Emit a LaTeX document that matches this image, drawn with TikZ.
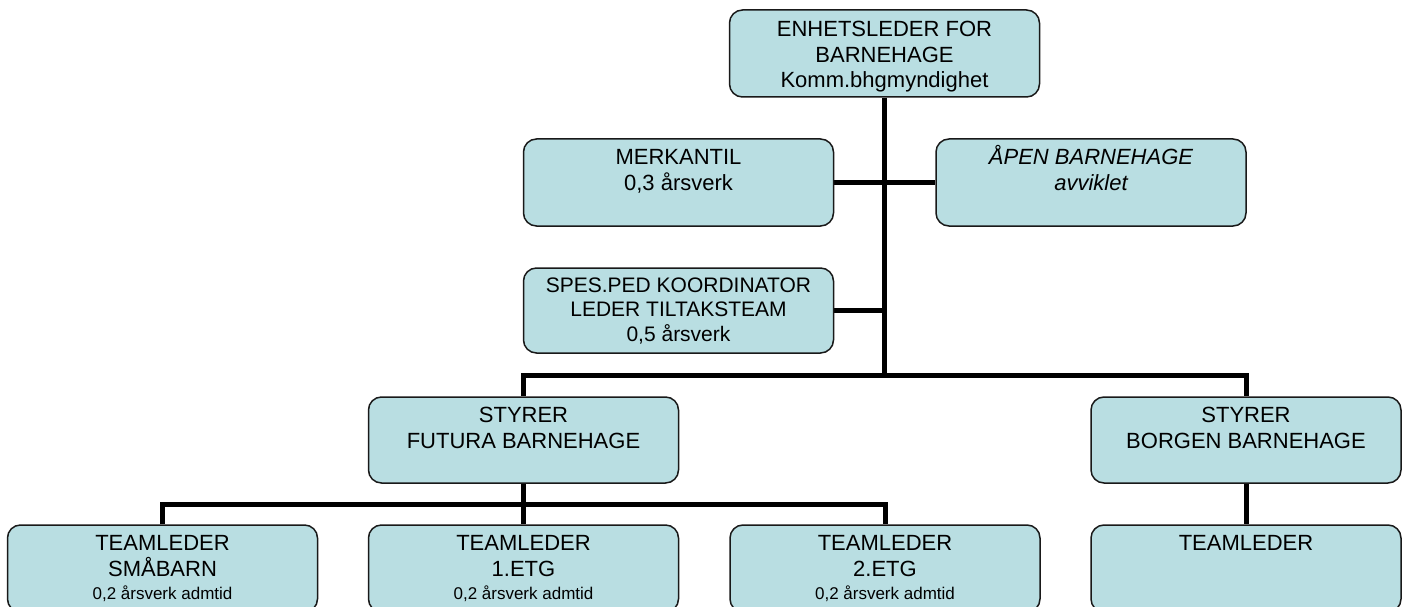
\documentclass[tikz,border=0pt]{standalone}
\usepackage{fontspec}
\setmainfont{Liberation Sans}
\usetikzlibrary{backgrounds,calc}
\definecolor{boxfill}{RGB}{185,222,226}
\definecolor{boxline}{RGB}{25,25,25}
\newcommand\firstln{\rule{0pt}{20pt}}
\newcommand\smalltxt[1]{{\fontsize{17}{20}\selectfont #1}}
\begin{document}
\begin{tikzpicture}[x=1pt,y=-1pt,
  orgbox/.style={draw=boxline, line width=1.5pt, fill=boxfill, rounded corners=13pt,
    inner sep=0pt, minimum width=310pt, minimum height=86pt},
  conn/.style={line width=5pt, draw=black},
  lbl/.style={anchor=north, align=center, inner sep=0pt, text=black,
    font=\fontsize{22}{26}\selectfont},
]
\useasboundingbox (0,0) rectangle (1406,607);
\clip (0,0) rectangle (1406,607);

% boxes
\node[orgbox, minimum height=87pt] (top)    at (884.5,53.5) {};
\node[orgbox, minimum height=87pt] (merk)   at (678.5,182.5) {};
\node[orgbox, minimum height=87pt] (apen)   at (1091,182.5) {};
\node[orgbox, minimum height=85pt] (spes)   at (678.5,310.5) {};
\node[orgbox] (futura) at (523.5,440) {};
\node[orgbox] (borgen) at (1246,440) {};
\node[orgbox, minimum height=87pt] (smaa)   at (162.5,568.5) {};
\node[orgbox, minimum height=87pt] (etg1)   at (523.5,568.5) {};
\node[orgbox, minimum height=87pt] (etg2)   at (885,568.5) {};
\node[orgbox, minimum height=87pt] (team)   at (1246,568.5) {};

% connectors
\coordinate (bus)  at (0,375);
\coordinate (bustwo) at (0,504);
\begin{scope}[on background layer]
\fill[white] (0,0) rectangle (1406,607);
\draw[conn] (top.south) -- (top.south |- bus);
\draw[conn] (merk.east) -- (apen.west);
\draw[conn] (spes.east) -- (spes.east -| top.south);
\draw[conn] (futura.north) -- (futura.north |- bus) -- (borgen.north |- bus) -- (borgen.north);
\draw[conn] (futura.south) -- (futura.south |- bustwo);
\draw[conn] (smaa.north) -- (smaa.north |- bustwo) -- (etg2.north |- bustwo) -- (etg2.north);
\draw[conn] (etg1.north) -- (etg1.north |- bustwo);
\draw[conn] (borgen.south) -- (team.north);
\end{scope}

% texts
\node[lbl, font=\fontsize{22}{25.5}\selectfont] (ttop) at ($(top.north)+(0,7.5)$)
  {\firstln ENHETSLEDER FOR\\BARNEHAGE\\Komm.bhgmyndighet};
\node[lbl] (tmerk) at ($(merk.north)+(0,6)$) {\firstln MERKANTIL\\0,3 årsverk};
\node[lbl, font=\fontsize{22}{26}\selectfont\itshape] (tapen) at ($(apen.north)+(0,6)$)
  {\firstln ÅPEN BARNEHAGE\\avviklet};
\node[lbl, font=\fontsize{21}{24.5}\selectfont] (tspes) at ($(spes.north)+(0,5)$)
  {\firstln SPES.PED KOORDINATOR\\LEDER TILTAKSTEAM\\0,5 årsverk};
\node[lbl] (tfutura) at ($(futura.north)+(0,6)$) {\firstln STYRER\\FUTURA BARNEHAGE};
\node[lbl] (tborgen) at ($(borgen.north)+(0,6)$) {\firstln STYRER\\BORGEN BARNEHAGE};
\node[lbl] (tsmaa) at ($(smaa.north)+(0,6)$)
  {\firstln TEAMLEDER\\SMÅBARN\\[-3pt]\smalltxt{0,2 årsverk admtid}};
\node[lbl] (tetg1) at ($(etg1.north)+(0,6)$)
  {\firstln TEAMLEDER\\1.ETG\\[-3pt]\smalltxt{0,2 årsverk admtid}};
\node[lbl] (tetg2) at ($(etg2.north)+(0,6)$)
  {\firstln TEAMLEDER\\2.ETG\\[-3pt]\smalltxt{0,2 årsverk admtid}};
\node[lbl] (tteam) at ($(team.north)+(0,6)$) {\firstln TEAMLEDER};
\end{tikzpicture}
\end{document}
